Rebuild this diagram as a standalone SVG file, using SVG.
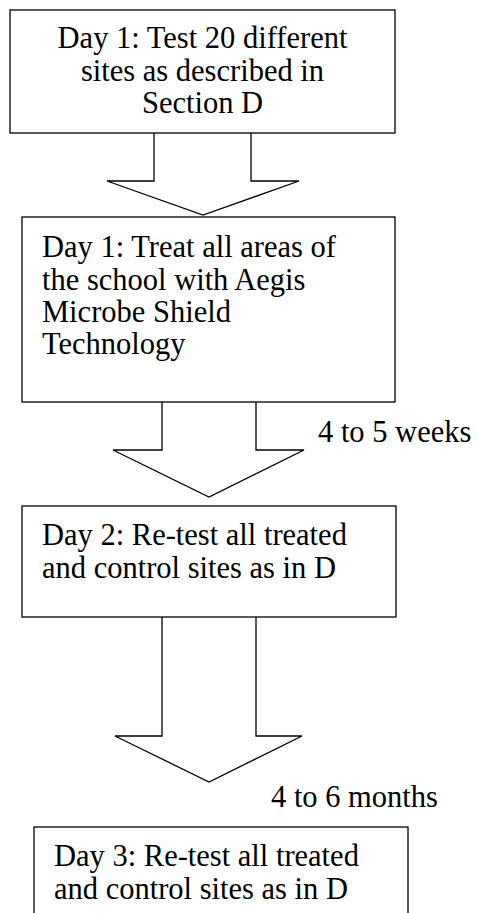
<svg xmlns="http://www.w3.org/2000/svg" width="477" height="913" viewBox="0 0 477 913">
<style>
.box{fill:#fff;stroke:#000;stroke-width:1.3}
.arr{fill:#fff;stroke:#000;stroke-width:1.3;stroke-linejoin:miter}
.t{font-family:'Liberation Serif',Tinos,'Times New Roman',Times,'DejaVu Serif',serif;font-size:30.5px;fill:#000}
.c{text-anchor:middle}
</style>
<rect width="477" height="913" fill="#fff"/>
<g id="connectors">
<polyline class="arr" points="154,133 154,181 107,181 203,215 299,181 251,181 251,133"/>
<polyline class="arr" points="162,402 162,450 113,450 209,497 304,450 256,450 256,402"/>
<polyline class="arr" points="162,617 162,736 115,736 209,782 302,736 256,736 256,617"/>
<text class="t" x="318" y="442">4 to 5 weeks</text>
<text class="t" x="271" y="807">4 to 6 months</text>
</g>
<g id="node1">
<rect class="box" x="10" y="10" width="385" height="123"/>
<text class="t c" x="202.5" y="48">Day 1: Test 20 different</text>
<text class="t c" x="202.5" y="81">sites as described in</text>
<text class="t c" x="202.5" y="113">Section D</text>
</g>
<g id="node2">
<rect class="box" x="22" y="217" width="373" height="185"/>
<text class="t" x="42" y="257">Day 1: Treat all areas of</text>
<text class="t" x="42" y="290">the school with Aegis</text>
<text class="t" x="42" y="322">Microbe Shield</text>
<text class="t" x="42" y="354">Technology</text>
</g>
<g id="node3">
<rect class="box" x="22" y="506" width="374" height="111"/>
<text class="t" x="42" y="545">Day 2: Re-test all treated</text>
<text class="t" x="42" y="578">and control sites as in D</text>
</g>
<g id="node4">
<rect class="box" x="34" y="827" width="374" height="100"/>
<text class="t" x="54" y="866">Day 3: Re-test all treated</text>
<text class="t" x="54" y="899">and control sites as in D</text>
</g>
</svg>
